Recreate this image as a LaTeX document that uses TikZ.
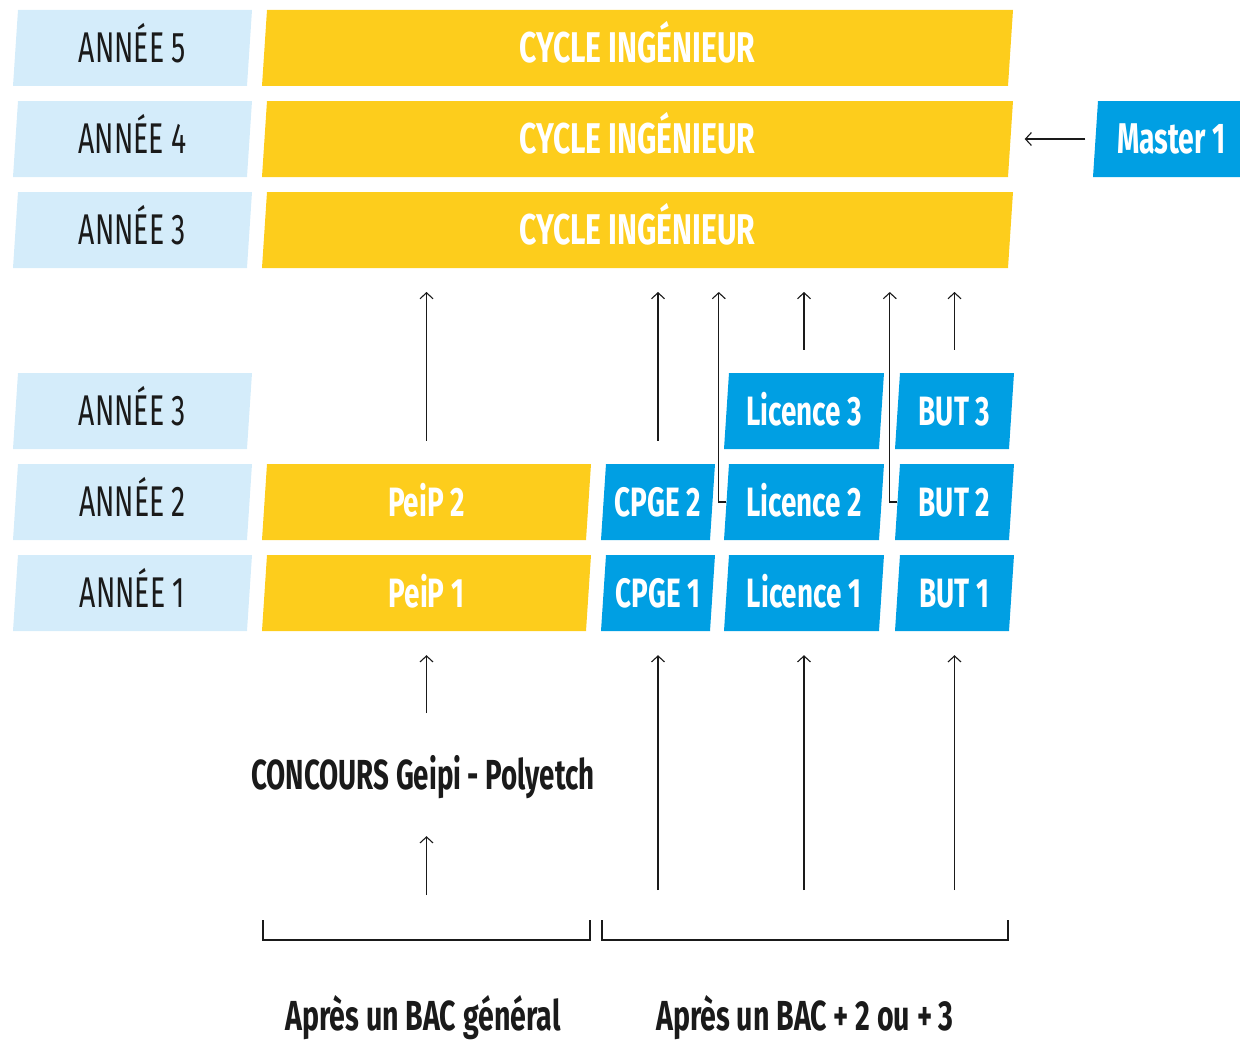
\documentclass[tikz,border=0pt]{standalone}
\usepackage{fontspec}
\setmainfont{Fira Sans}
\newfontfamily\condr[FakeStretch=0.66]{Fira Sans}
\newfontfamily\condb[FakeStretch=0.66]{Fira Sans}
\newfontfamily\condc[FakeStretch=0.70]{Fira Sans}
\newfontfamily\condd[FakeStretch=0.68]{Fira Sans}
\usetikzlibrary{arrows.meta}
\definecolor{lblue}{HTML}{D4ECFA}
\definecolor{yel}{HTML}{FDCD1C}
\definecolor{cblue}{HTML}{009FE3}
\definecolor{ink}{HTML}{1A1A1A}
\tikzset{
  box/.style={inner sep=0pt, minimum height=76pt, text height=29pt, text depth=0pt},
  yeartxt/.style={text=ink, font=\condr\fontsize{43}{43}\selectfont},
  ctxt/.style={text=white, font=\condc\bfseries\fontsize{43}{43}\selectfont},
  wtxt/.style={text=white, font=\condb\bfseries\fontsize{43}{43}\selectfont},
  btxt/.style={text=white, font=\condd\bfseries\fontsize{41}{41}\selectfont},
  lbl/.style={text=ink, inner sep=0pt, text height=29pt, text depth=0pt, font=\condb\bfseries\fontsize{42}{42}\selectfont},
  lblb/.style={text=ink, inner sep=0pt, text height=29pt, text depth=0pt, font=\condd\bfseries\fontsize{42}{42}\selectfont},
  arr/.style={draw=ink, line width=1.1pt, -{Straight Barb[length=6pt,width=13pt]}},
  brk/.style={draw=ink, line width=1.1pt},
}
% name, bottom-left x, bottom-right x, top y, colour, text style, text
\newcommand\slbox[7]{%
  \fill[#5] (#2+5,#4) -- (#3+5,#4) -- (#3,#4+76) -- (#2,#4+76) -- cycle;
  \node[box,#6,minimum width={#3-#2}] (#1) at ({(#2+#3)/2+2.5},{#4+38}) {#7};
}
\begin{document}
\begin{tikzpicture}[x=1pt,y=-1pt]
\useasboundingbox (0,0) rectangle (1240,1041);
% upper rows
\slbox{y5}{13}{247}{10}{lblue}{yeartxt}{ANNÉE 5}
\slbox{y4}{13}{247}{101}{lblue}{yeartxt}{ANNÉE 4}
\slbox{y3}{13}{247}{192}{lblue}{yeartxt}{ANNÉE 3}
\slbox{c5}{262}{1008}{10}{yel}{ctxt}{CYCLE INGÉNIEUR}
\slbox{c4}{262}{1008}{101}{yel}{ctxt}{CYCLE INGÉNIEUR}
\slbox{c3}{262}{1008}{192}{yel}{ctxt}{CYCLE INGÉNIEUR}
\slbox{master}{1093}{1245}{101}{cblue}{wtxt}{Master 1}
% lower rows
\slbox{b3}{13}{247}{373}{lblue}{yeartxt}{ANNÉE 3}
\slbox{b2}{13}{247}{464}{lblue}{yeartxt}{ANNÉE 2}
\slbox{b1}{13}{247}{555}{lblue}{yeartxt}{ANNÉE 1}
\slbox{peip2}{262}{586}{464}{yel}{btxt}{PeiP 2}
\slbox{peip1}{262}{586}{555}{yel}{btxt}{PeiP 1}
\slbox{cpge2}{601}{710}{464}{cblue}{btxt}{CPGE 2}
\slbox{cpge1}{601}{710}{555}{cblue}{btxt}{CPGE 1}
\slbox{lic3}{724}{879}{373}{cblue}{btxt}{Licence 3}
\slbox{lic2}{724}{879}{464}{cblue}{btxt}{Licence 2}
\slbox{lic1}{724}{879}{555}{cblue}{btxt}{Licence 1}
\slbox{but3}{895}{1009}{373}{cblue}{btxt}{BUT 3}
\slbox{but2}{895}{1009}{464}{cblue}{btxt}{BUT 2}
\slbox{but1}{895}{1009}{555}{cblue}{btxt}{BUT 1}
\coordinate (up) at (0,292);
% master arrow
\draw[arr] ([xshift=-10pt]master.west) -- ([xshift=14pt]c4.east);
% arrows to cycle ingénieur
\draw[arr] ([yshift=23pt]peip2.north) -- (peip2.north |- up);
\draw[arr] ([yshift=23pt]cpge2.north) -- (cpge2.north |- up);
\draw[arr] ([yshift=23pt]lic3.north) -- (lic3.north |- up);
\draw[arr] ([yshift=23pt]but3.north) -- (but3.north |- up);
\draw[arr] (lic2.west) -- ++(-7.5,0) -- ++(0,-210);
\draw[arr] (but2.west) -- ++(-7.5,0) -- ++(0,-210);
% concours
\node[lbl] (concours) at (423,775) {CONCOURS Geipi - Polyetch};
\draw[arr] ([yshift=-82pt]peip1.south) -- ([yshift=-24pt]peip1.south);
\draw[arr] ([yshift=-264pt]peip1.south) -- ([yshift=-205pt]peip1.south);
\draw[arr] ([yshift=-259pt]cpge1.south) -- ([yshift=-24pt]cpge1.south);
\draw[arr] ([yshift=-259pt]lic1.south) -- ([yshift=-24pt]lic1.south);
\draw[arr] ([yshift=-259pt]but1.south) -- ([yshift=-24pt]but1.south);
% brackets
\draw[brk] (263,920) -- (263,940) -- (590,940) -- (590,920);
\draw[brk] (602,920) -- (602,940) -- (1008,940) -- (1008,920);
\node[lblb] (bacg) at (423,1016) {Après un BAC général};
\node[lblb] (bac23) at (805,1016) {Après un BAC + 2 ou + 3};
\end{tikzpicture}
\end{document}
